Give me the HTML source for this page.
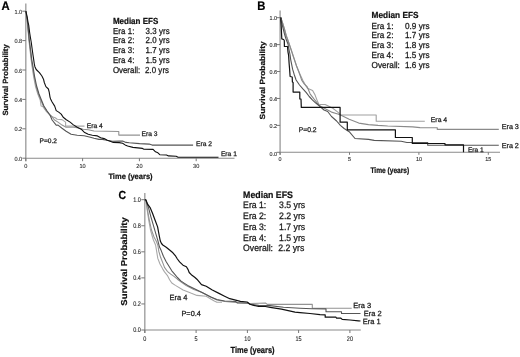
<!DOCTYPE html>
<html><head><meta charset="utf-8"><style>
html,body{margin:0;padding:0;background:#fff;width:520px;height:357px;overflow:hidden}
svg{display:block;filter:blur(0.45px)}
text{font-family:"Liberation Sans", sans-serif;text-rendering:geometricPrecision}
</style></head><body>
<svg width="520" height="357" viewBox="0 0 520 357">
<rect width="520" height="357" fill="#fff"/>
<line x1="25.8" y1="3.5" x2="25.8" y2="161.2" stroke="#a0a0a0" stroke-width="1.4"/>
<line x1="25.3" y1="158.2" x2="234.5" y2="158.2" stroke="#8a8a8a" stroke-width="1.1"/>
<line x1="22.3" y1="11.2" x2="25.8" y2="11.2" stroke="#777" stroke-width="1"/>
<text x="22.2" y="0" font-size="5.6" transform="translate(0,13.7168) scale(1,1.05)" text-anchor="end" fill="#2a2a2a" stroke="#2a2a2a" stroke-width="0.1">1.0</text>
<line x1="22.3" y1="40.599999999999994" x2="25.8" y2="40.599999999999994" stroke="#777" stroke-width="1"/>
<text x="22.2" y="0" font-size="5.6" transform="translate(0,43.11679999999999) scale(1,1.05)" text-anchor="end" fill="#2a2a2a" stroke="#2a2a2a" stroke-width="0.1">0.8</text>
<line x1="22.3" y1="70.0" x2="25.8" y2="70.0" stroke="#777" stroke-width="1"/>
<text x="22.2" y="0" font-size="5.6" transform="translate(0,72.5168) scale(1,1.05)" text-anchor="end" fill="#2a2a2a" stroke="#2a2a2a" stroke-width="0.1">0.6</text>
<line x1="22.3" y1="99.39999999999999" x2="25.8" y2="99.39999999999999" stroke="#777" stroke-width="1"/>
<text x="22.2" y="0" font-size="5.6" transform="translate(0,101.9168) scale(1,1.05)" text-anchor="end" fill="#2a2a2a" stroke="#2a2a2a" stroke-width="0.1">0.4</text>
<line x1="22.3" y1="128.79999999999998" x2="25.8" y2="128.79999999999998" stroke="#777" stroke-width="1"/>
<text x="22.2" y="0" font-size="5.6" transform="translate(0,131.3168) scale(1,1.05)" text-anchor="end" fill="#2a2a2a" stroke="#2a2a2a" stroke-width="0.1">0.2</text>
<line x1="22.3" y1="158.2" x2="25.8" y2="158.2" stroke="#777" stroke-width="1"/>
<text x="22.2" y="0" font-size="5.6" transform="translate(0,160.7168) scale(1,1.05)" text-anchor="end" fill="#2a2a2a" stroke="#2a2a2a" stroke-width="0.1">0.0</text>
<line x1="25.8" y1="158.2" x2="25.8" y2="161.2" stroke="#777" stroke-width="1"/>
<text x="25.8" y="0" font-size="5.6" transform="translate(0,168.0) scale(1,1.05)" text-anchor="middle" fill="#2a2a2a" stroke="#2a2a2a" stroke-width="0.1">0</text>
<line x1="82.6" y1="158.2" x2="82.6" y2="161.2" stroke="#777" stroke-width="1"/>
<text x="82.6" y="0" font-size="5.6" transform="translate(0,168.0) scale(1,1.05)" text-anchor="middle" fill="#2a2a2a" stroke="#2a2a2a" stroke-width="0.1">10</text>
<line x1="139.4" y1="158.2" x2="139.4" y2="161.2" stroke="#777" stroke-width="1"/>
<text x="139.4" y="0" font-size="5.6" transform="translate(0,168.0) scale(1,1.05)" text-anchor="middle" fill="#2a2a2a" stroke="#2a2a2a" stroke-width="0.1">20</text>
<line x1="196.2" y1="158.2" x2="196.2" y2="161.2" stroke="#777" stroke-width="1"/>
<text x="196.2" y="0" font-size="5.6" transform="translate(0,168.0) scale(1,1.05)" text-anchor="middle" fill="#2a2a2a" stroke="#2a2a2a" stroke-width="0.1">30</text>
<text x="1.4" y="0" font-size="11.3" transform="translate(0,9.9) scale(1,1.1)" font-weight="bold" fill="#000" stroke="#000" stroke-width="0.2">A</text>
<text x="0" y="0" font-size="7.6" textLength="71.2" lengthAdjust="spacingAndGlyphs" font-weight="bold" text-anchor="middle" fill="#111" stroke="#111" stroke-width="0.2" transform="translate(7.9,79.95) rotate(-90)">Survival Probability</text>
<text x="130.5" y="0" font-size="7.6" textLength="44.2" lengthAdjust="spacingAndGlyphs" transform="translate(0,178.5) scale(1,1.05)" font-weight="bold" text-anchor="middle" fill="#111" stroke="#111" stroke-width="0.2">Time (years)</text>
<text x="112.9" y="0" font-size="8.0" transform="translate(0,23.8) scale(1,1.1)" font-weight="bold" fill="#111" stroke="#111" stroke-width="0.2">Median EFS</text>
<text x="112.9" y="0" font-size="7.9" letter-spacing="0.08" transform="translate(0,33.6) scale(1,1.1)" fill="#1a1a1a" stroke="#1a1a1a" stroke-width="0.25">Era 1:</text>
<text x="145.6" y="0" font-size="7.9" letter-spacing="0.08" transform="translate(0,33.6) scale(1,1.1)" fill="#1a1a1a" stroke="#1a1a1a" stroke-width="0.25">3.3 yrs</text>
<text x="112.9" y="0" font-size="7.9" letter-spacing="0.08" transform="translate(0,43.34) scale(1,1.1)" fill="#1a1a1a" stroke="#1a1a1a" stroke-width="0.25">Era 2:</text>
<text x="145.6" y="0" font-size="7.9" letter-spacing="0.08" transform="translate(0,43.34) scale(1,1.1)" fill="#1a1a1a" stroke="#1a1a1a" stroke-width="0.25">2.0 yrs</text>
<text x="112.9" y="0" font-size="7.9" letter-spacing="0.08" transform="translate(0,53.08) scale(1,1.1)" fill="#1a1a1a" stroke="#1a1a1a" stroke-width="0.25">Era 3:</text>
<text x="145.6" y="0" font-size="7.9" letter-spacing="0.08" transform="translate(0,53.08) scale(1,1.1)" fill="#1a1a1a" stroke="#1a1a1a" stroke-width="0.25">1.7 yrs</text>
<text x="112.9" y="0" font-size="7.9" letter-spacing="0.08" transform="translate(0,62.82) scale(1,1.1)" fill="#1a1a1a" stroke="#1a1a1a" stroke-width="0.25">Era 4:</text>
<text x="145.6" y="0" font-size="7.9" letter-spacing="0.08" transform="translate(0,62.82) scale(1,1.1)" fill="#1a1a1a" stroke="#1a1a1a" stroke-width="0.25">1.5 yrs</text>
<text x="112.9" y="0" font-size="7.9" transform="translate(0,72.5) scale(1,1.1)" fill="#1a1a1a" stroke="#1a1a1a" stroke-width="0.25">Overall:</text>
<text x="144.9" y="0" font-size="7.9" letter-spacing="0.08" transform="translate(0,72.5) scale(1,1.1)" fill="#1a1a1a" stroke="#1a1a1a" stroke-width="0.25">2.0 yrs</text>
<text x="39.6" y="142.8" font-size="6.6" fill="#1a1a1a" stroke="#1a1a1a" stroke-width="0.25">P=0.2</text>
<text x="86.8" y="127.8" font-size="6.7" fill="#1a1a1a" stroke="#1a1a1a" stroke-width="0.25">Era 4</text>
<text x="141.6" y="136.2" font-size="6.7" fill="#1a1a1a" stroke="#1a1a1a" stroke-width="0.25">Era 3</text>
<text x="196" y="145.8" font-size="6.7" fill="#1a1a1a" stroke="#1a1a1a" stroke-width="0.25">Era 2</text>
<text x="220.9" y="156.3" font-size="6.7" fill="#1a1a1a" stroke="#1a1a1a" stroke-width="0.25">Era 1</text>
<line x1="280.1" y1="10.5" x2="280.1" y2="154.8" stroke="#a0a0a0" stroke-width="1.4"/>
<line x1="279.6" y1="152.3" x2="500" y2="152.3" stroke="#8a8a8a" stroke-width="1.1"/>
<line x1="276.6" y1="17.7" x2="280.1" y2="17.7" stroke="#777" stroke-width="1"/>
<text x="276.9" y="0" font-size="5.4" transform="translate(0,19.8412) scale(1,1.05)" text-anchor="end" fill="#2a2a2a" stroke="#2a2a2a" stroke-width="0.1">1.0</text>
<line x1="276.6" y1="44.620000000000005" x2="280.1" y2="44.620000000000005" stroke="#777" stroke-width="1"/>
<text x="276.9" y="0" font-size="5.4" transform="translate(0,46.98120000000001) scale(1,1.05)" text-anchor="end" fill="#2a2a2a" stroke="#2a2a2a" stroke-width="0.1">0.8</text>
<line x1="276.6" y1="71.54" x2="280.1" y2="71.54" stroke="#777" stroke-width="1"/>
<text x="276.9" y="0" font-size="5.4" transform="translate(0,74.1212) scale(1,1.05)" text-anchor="end" fill="#2a2a2a" stroke="#2a2a2a" stroke-width="0.1">0.6</text>
<line x1="276.6" y1="98.46000000000001" x2="280.1" y2="98.46000000000001" stroke="#777" stroke-width="1"/>
<text x="276.9" y="0" font-size="5.4" transform="translate(0,101.2612) scale(1,1.05)" text-anchor="end" fill="#2a2a2a" stroke="#2a2a2a" stroke-width="0.1">0.4</text>
<line x1="276.6" y1="125.38000000000001" x2="280.1" y2="125.38000000000001" stroke="#777" stroke-width="1"/>
<text x="276.9" y="0" font-size="5.4" transform="translate(0,128.40120000000002) scale(1,1.05)" text-anchor="end" fill="#2a2a2a" stroke="#2a2a2a" stroke-width="0.1">0.2</text>
<line x1="276.6" y1="152.3" x2="280.1" y2="152.3" stroke="#777" stroke-width="1"/>
<text x="276.9" y="0" font-size="5.4" transform="translate(0,155.5412) scale(1,1.05)" text-anchor="end" fill="#2a2a2a" stroke="#2a2a2a" stroke-width="0.1">0.0</text>
<line x1="280.1" y1="152.3" x2="280.1" y2="154.8" stroke="#777" stroke-width="1"/>
<text x="280.1" y="0" font-size="5.4" transform="translate(0,160.9) scale(1,1.05)" text-anchor="middle" fill="#2a2a2a" stroke="#2a2a2a" stroke-width="0.1">0</text>
<line x1="349.5" y1="152.3" x2="349.5" y2="154.8" stroke="#777" stroke-width="1"/>
<text x="349.5" y="0" font-size="5.4" transform="translate(0,160.9) scale(1,1.05)" text-anchor="middle" fill="#2a2a2a" stroke="#2a2a2a" stroke-width="0.1">5</text>
<line x1="418.9" y1="152.3" x2="418.9" y2="154.8" stroke="#777" stroke-width="1"/>
<text x="418.9" y="0" font-size="5.4" transform="translate(0,160.9) scale(1,1.05)" text-anchor="middle" fill="#2a2a2a" stroke="#2a2a2a" stroke-width="0.1">10</text>
<line x1="488.3" y1="152.3" x2="488.3" y2="154.8" stroke="#777" stroke-width="1"/>
<text x="488.3" y="0" font-size="5.4" transform="translate(0,160.9) scale(1,1.05)" text-anchor="middle" fill="#2a2a2a" stroke="#2a2a2a" stroke-width="0.1">15</text>
<text x="257.3" y="0" font-size="11.3" transform="translate(0,9.9) scale(1,1.1)" font-weight="bold" fill="#000" stroke="#000" stroke-width="0.2">B</text>
<text x="0" y="0" font-size="7.5" textLength="78" lengthAdjust="spacingAndGlyphs" font-weight="bold" text-anchor="middle" fill="#111" stroke="#111" stroke-width="0.2" transform="translate(264.6,80.4) rotate(-90)">Survival Probability</text>
<text x="389.8" y="0" font-size="7.1" textLength="38.8" lengthAdjust="spacingAndGlyphs" transform="translate(0,172.8) scale(1,1.14)" font-weight="bold" text-anchor="middle" fill="#111" stroke="#111" stroke-width="0.2">Time (years)</text>
<text x="371.6" y="0" font-size="8.3" transform="translate(0,18.4) scale(1,1.07)" font-weight="bold" fill="#111" stroke="#111" stroke-width="0.2">Median EFS</text>
<text x="371.6" y="0" font-size="8.2" transform="translate(0,28.5) scale(1,1.07)" fill="#1a1a1a" stroke="#1a1a1a" stroke-width="0.25">Era 1:</text>
<text x="405" y="0" font-size="8.2" transform="translate(0,28.5) scale(1,1.07)" fill="#1a1a1a" stroke="#1a1a1a" stroke-width="0.25">0.9 yrs</text>
<text x="371.6" y="0" font-size="8.2" transform="translate(0,38.36) scale(1,1.07)" fill="#1a1a1a" stroke="#1a1a1a" stroke-width="0.25">Era 2:</text>
<text x="405" y="0" font-size="8.2" transform="translate(0,38.36) scale(1,1.07)" fill="#1a1a1a" stroke="#1a1a1a" stroke-width="0.25">1.7 yrs</text>
<text x="371.6" y="0" font-size="8.2" transform="translate(0,48.22) scale(1,1.07)" fill="#1a1a1a" stroke="#1a1a1a" stroke-width="0.25">Era 3:</text>
<text x="405" y="0" font-size="8.2" transform="translate(0,48.22) scale(1,1.07)" fill="#1a1a1a" stroke="#1a1a1a" stroke-width="0.25">1.8 yrs</text>
<text x="371.6" y="0" font-size="8.2" transform="translate(0,58.08) scale(1,1.07)" fill="#1a1a1a" stroke="#1a1a1a" stroke-width="0.25">Era 4:</text>
<text x="405" y="0" font-size="8.2" transform="translate(0,58.08) scale(1,1.07)" fill="#1a1a1a" stroke="#1a1a1a" stroke-width="0.25">1.5 yrs</text>
<text x="371.6" y="0" font-size="8.2" transform="translate(0,67.94) scale(1,1.07)" fill="#1a1a1a" stroke="#1a1a1a" stroke-width="0.25">Overall:</text>
<text x="405" y="0" font-size="8.2" transform="translate(0,67.94) scale(1,1.07)" fill="#1a1a1a" stroke="#1a1a1a" stroke-width="0.25">1.6 yrs</text>
<text x="298.7" y="132.4" font-size="6.8" fill="#1a1a1a" stroke="#1a1a1a" stroke-width="0.25">P=0.2</text>
<text x="430.8" y="122.4" font-size="6.85" fill="#1a1a1a" stroke="#1a1a1a" stroke-width="0.25">Era 4</text>
<text x="501.7" y="129.2" font-size="7.2" fill="#1a1a1a" stroke="#1a1a1a" stroke-width="0.25">Era 3</text>
<text x="501.7" y="147.5" font-size="7.2" fill="#1a1a1a" stroke="#1a1a1a" stroke-width="0.25">Era 2</text>
<text x="467.9" y="151.6" font-size="6.6" fill="#1a1a1a" stroke="#1a1a1a" stroke-width="0.25">Era 1</text>
<line x1="144.8" y1="193" x2="144.8" y2="333" stroke="#a0a0a0" stroke-width="1.4"/>
<line x1="144.3" y1="330" x2="360.8" y2="330" stroke="#8a8a8a" stroke-width="1.1"/>
<line x1="141.3" y1="199.7" x2="144.8" y2="199.7" stroke="#777" stroke-width="1"/>
<text x="140.9" y="0" font-size="5.5" transform="translate(0,202.1156) scale(1,1.22)" text-anchor="end" fill="#2a2a2a" stroke="#2a2a2a" stroke-width="0.1">1.0</text>
<line x1="141.3" y1="225.76" x2="144.8" y2="225.76" stroke="#777" stroke-width="1"/>
<text x="140.9" y="0" font-size="5.5" transform="translate(0,228.1756) scale(1,1.22)" text-anchor="end" fill="#2a2a2a" stroke="#2a2a2a" stroke-width="0.1">0.8</text>
<line x1="141.3" y1="251.82" x2="144.8" y2="251.82" stroke="#777" stroke-width="1"/>
<text x="140.9" y="0" font-size="5.5" transform="translate(0,254.2356) scale(1,1.22)" text-anchor="end" fill="#2a2a2a" stroke="#2a2a2a" stroke-width="0.1">0.6</text>
<line x1="141.3" y1="277.88" x2="144.8" y2="277.88" stroke="#777" stroke-width="1"/>
<text x="140.9" y="0" font-size="5.5" transform="translate(0,280.2956) scale(1,1.22)" text-anchor="end" fill="#2a2a2a" stroke="#2a2a2a" stroke-width="0.1">0.4</text>
<line x1="141.3" y1="303.94" x2="144.8" y2="303.94" stroke="#777" stroke-width="1"/>
<text x="140.9" y="0" font-size="5.5" transform="translate(0,306.3556) scale(1,1.22)" text-anchor="end" fill="#2a2a2a" stroke="#2a2a2a" stroke-width="0.1">0.2</text>
<line x1="141.3" y1="330.0" x2="144.8" y2="330.0" stroke="#777" stroke-width="1"/>
<text x="140.9" y="0" font-size="5.5" transform="translate(0,332.4156) scale(1,1.22)" text-anchor="end" fill="#2a2a2a" stroke="#2a2a2a" stroke-width="0.1">0.0</text>
<line x1="144.8" y1="330" x2="144.8" y2="333" stroke="#777" stroke-width="1"/>
<text x="144.8" y="0" font-size="5.5" transform="translate(0,340.9) scale(1,1.22)" text-anchor="middle" fill="#2a2a2a" stroke="#2a2a2a" stroke-width="0.1">0</text>
<line x1="196.1" y1="330" x2="196.1" y2="333" stroke="#777" stroke-width="1"/>
<text x="196.1" y="0" font-size="5.5" transform="translate(0,340.9) scale(1,1.22)" text-anchor="middle" fill="#2a2a2a" stroke="#2a2a2a" stroke-width="0.1">5</text>
<line x1="247.4" y1="330" x2="247.4" y2="333" stroke="#777" stroke-width="1"/>
<text x="247.4" y="0" font-size="5.5" transform="translate(0,340.9) scale(1,1.22)" text-anchor="middle" fill="#2a2a2a" stroke="#2a2a2a" stroke-width="0.1">10</text>
<line x1="298.6" y1="330" x2="298.6" y2="333" stroke="#777" stroke-width="1"/>
<text x="298.6" y="0" font-size="5.5" transform="translate(0,340.9) scale(1,1.22)" text-anchor="middle" fill="#2a2a2a" stroke="#2a2a2a" stroke-width="0.1">15</text>
<line x1="349.9" y1="330" x2="349.9" y2="333" stroke="#777" stroke-width="1"/>
<text x="349.9" y="0" font-size="5.5" transform="translate(0,340.9) scale(1,1.22)" text-anchor="middle" fill="#2a2a2a" stroke="#2a2a2a" stroke-width="0.1">20</text>
<text x="118.6" y="0" font-size="10.5" transform="translate(0,198.6) scale(1,1.12)" font-weight="bold" fill="#000" stroke="#000" stroke-width="0.2">C</text>
<text x="0" y="0" font-size="8.6" textLength="88.4" lengthAdjust="spacingAndGlyphs" font-weight="bold" text-anchor="middle" fill="#111" stroke="#111" stroke-width="0.2" transform="translate(127.2,261.5) rotate(-90)">Survival Probability</text>
<text x="252.6" y="0" font-size="7.6" textLength="44" lengthAdjust="spacingAndGlyphs" transform="translate(0,353.0) scale(1,1.17)" font-weight="bold" text-anchor="middle" fill="#111" stroke="#111" stroke-width="0.2">Time (years)</text>
<text x="243.1" y="0" font-size="8.8" transform="translate(0,197.5) scale(1,1.07)" font-weight="bold" fill="#111" stroke="#111" stroke-width="0.2">Median EFS</text>
<text x="243.1" y="0" font-size="8.7" transform="translate(0,208.0) scale(1,1.07)" fill="#1a1a1a" stroke="#1a1a1a" stroke-width="0.25">Era 1:</text>
<text x="279.1" y="0" font-size="8.7" transform="translate(0,208.0) scale(1,1.07)" fill="#1a1a1a" stroke="#1a1a1a" stroke-width="0.25">3.5 yrs</text>
<text x="243.1" y="0" font-size="8.7" transform="translate(0,218.85) scale(1,1.07)" fill="#1a1a1a" stroke="#1a1a1a" stroke-width="0.25">Era 2:</text>
<text x="279.1" y="0" font-size="8.7" transform="translate(0,218.85) scale(1,1.07)" fill="#1a1a1a" stroke="#1a1a1a" stroke-width="0.25">2.2 yrs</text>
<text x="243.1" y="0" font-size="8.7" transform="translate(0,229.7) scale(1,1.07)" fill="#1a1a1a" stroke="#1a1a1a" stroke-width="0.25">Era 3:</text>
<text x="279.1" y="0" font-size="8.7" transform="translate(0,229.7) scale(1,1.07)" fill="#1a1a1a" stroke="#1a1a1a" stroke-width="0.25">1.7 yrs</text>
<text x="243.1" y="0" font-size="8.7" transform="translate(0,240.55) scale(1,1.07)" fill="#1a1a1a" stroke="#1a1a1a" stroke-width="0.25">Era 4:</text>
<text x="279.1" y="0" font-size="8.7" transform="translate(0,240.55) scale(1,1.07)" fill="#1a1a1a" stroke="#1a1a1a" stroke-width="0.25">1.5 yrs</text>
<text x="243.1" y="0" font-size="8.7" transform="translate(0,251.4) scale(1,1.07)" fill="#1a1a1a" stroke="#1a1a1a" stroke-width="0.25">Overall:</text>
<text x="278.20000000000005" y="0" font-size="8.7" transform="translate(0,251.4) scale(1,1.07)" fill="#1a1a1a" stroke="#1a1a1a" stroke-width="0.25">2.2 yrs</text>
<text x="181.5" y="315.5" font-size="7.3" fill="#1a1a1a" stroke="#1a1a1a" stroke-width="0.25">P=0.4</text>
<text x="353.3" y="307.9" font-size="7.5" fill="#1a1a1a" stroke="#1a1a1a" stroke-width="0.25">Era 3</text>
<text x="363.7" y="315.6" font-size="7.5" fill="#1a1a1a" stroke="#1a1a1a" stroke-width="0.25">Era 2</text>
<text x="362.8" y="324.4" font-size="7.5" fill="#1a1a1a" stroke="#1a1a1a" stroke-width="0.25">Era 1</text>
<text x="169.4" y="300" font-size="7.5" fill="#1a1a1a" stroke="#1a1a1a" stroke-width="0.25">Era 4</text>
<path d="M25.8,11.2 L26.2,14.0 L27.0,20.0 L28.0,30.0 L28.9,40.0 L30.0,50.0 L31.2,60.0 L32.0,66.0 L33.5,76.0 L35.4,86.0 L37.8,94.0 L40.2,100.0 L41.1,106.0 L42.7,106.5 L46.0,111.0 L50.1,115.2 L52.1,116.7 L55.2,117.7 L57.2,119.2 L62.0,119.6 L65.6,122.1 L65.6,126.1 L84.5,126.1" fill="none" stroke="#a8a8a8" stroke-width="1.1" stroke-linejoin="round" opacity="1"/>
<path d="M25.8,11.2 L26.3,14.0 L27.2,20.0 L28.2,30.0 L29.1,40.0 L30.3,50.0 L31.5,60.0 L32.4,66.0 L34.0,76.0 L36.0,86.0 L38.4,94.0 L40.8,100.0 L43.3,106.0 L46.5,111.0 L50.0,115.0 L52.1,116.7 L54.2,119.7 L58.0,122.1 L62.0,125.1 L66.1,127.2 L73.1,127.2 L77.2,127.7 L83.2,129.2 L88.2,129.7 L94.0,131.0 L118.8,131.5 L118.8,135.1 L140.0,135.1" fill="none" stroke="#939393" stroke-width="1.1" stroke-linejoin="round" opacity="1"/>
<path d="M25.8,11.2 L26.3,14.0 L27.3,20.0 L28.3,30.0 L29.3,40.0 L30.6,50.0 L31.8,60.0 L32.9,66.0 L34.5,76.0 L36.6,86.0 L39.0,94.0 L41.4,100.0 L43.9,106.0 L47.1,111.0 L50.1,115.2 L52.1,120.0 L56.2,125.2 L58.0,125.1 L62.0,128.2 L66.1,131.2 L71.1,134.2 L77.2,135.2 L84.2,135.7 L90.3,137.2 L94.0,138.2 L99.0,139.4 L102.4,139.4 L106.6,140.3 L112.5,141.3 L119.2,141.0 L122.6,141.1 L126.0,142.4 L129.3,142.8 L139.6,143.6 L149.2,144.1 L152.1,145.1 L193.1,145.1" fill="none" stroke="#555" stroke-width="1.1" stroke-linejoin="round" opacity="1"/>
<path d="M25.8,11.2 L26.3,13.0 L27.2,17.0 L28.0,22.0 L28.7,25.0 L29.7,33.0 L30.5,38.0 L31.2,42.0 L32.3,50.0 L33.0,55.0 L33.7,59.7 L34.3,64.0 L34.9,66.7 L36.2,69.5 L39.4,72.7 L41.9,76.0 L43.5,79.2 L44.3,82.5 L45.9,86.6 L48.4,89.0 L49.2,92.2 L50.0,97.1 L50.6,99.0 L52.1,102.0 L54.7,106.1 L56.2,110.6 L58.7,112.1 L61.2,114.1 L63.2,117.2 L66.3,119.7 L70.1,122.1 L73.1,124.6 L77.2,127.2 L81.2,129.2 L84.2,132.2 L88.2,134.2 L92.3,135.2 L97.4,135.9 L100.7,137.8 L104.1,138.6 L107.4,140.3 L110.8,141.5 L113.3,142.4 L119.2,142.6 L122.6,143.2 L125.1,144.9 L127.6,146.0 L132.9,147.4 L142.5,148.4 L143.9,149.2 L153.1,149.4 L155.5,151.8 L157.9,152.8 L159.8,154.7 L166.5,155.0 L168.5,155.9 L176.2,156.3 L178.1,157.2 L218.5,157.2" fill="none" stroke="#111" stroke-width="1.1" stroke-linejoin="round" opacity="1"/>
<path d="M280.4,17.7 L280.9,17.9 L282.5,22.5 L284.6,29.5 L286.4,36.0 L288.2,41.0 L291.0,49.0 L293.8,57.5 L296.6,66.0 L299.4,73.0 L302.9,80.5 L305.3,84.8 L307.4,88.3 L312.6,90.5 L315.1,95.1 L317.0,100.1 L319.5,105.8 L320.2,104.5 L325.2,104.5 L332.8,108.3 L337.8,112.1 L340.4,114.6 L340.6,115.0 L376.2,115.0 L376.2,121.2 L424.8,121.2" fill="none" stroke="#a0a0a0" stroke-width="1.1" stroke-linejoin="round" opacity="1"/>
<path d="M280.4,17.7 L280.9,17.9 L282.3,22.1 L284.4,28.8 L286.1,35.5 L287.8,40.0 L290.6,48.4 L293.4,56.8 L296.2,65.2 L299.0,72.2 L301.7,80.1 L304.2,83.9 L307.3,87.0 L310.1,93.8 L313.9,98.9 L319.5,105.8 L331.5,112.1 L337.8,114.0 L341.6,115.5 L349.2,119.2 L358.8,123.1 L368.5,124.6 L378.0,125.4 L387.7,126.0 L412.7,126.9 L420.0,127.6 L437.3,127.7 L437.3,129.4 L498.8,129.4" fill="none" stroke="#8a8a8a" stroke-width="1.1" stroke-linejoin="round" opacity="1"/>
<path d="M280.4,17.7 L280.9,17.9 L281.5,22.0 L283.0,28.0 L284.5,34.0 L286.0,39.0 L287.2,42.0 L288.0,44.0 L289.1,50.0 L290.1,55.1 L290.6,59.1 L291.6,64.2 L292.6,69.2 L294.1,74.2 L296.1,80.0 L299.5,85.0 L302.9,88.9 L306.3,92.6 L309.2,96.5 L312.6,100.1 L315.5,102.8 L319.5,106.0 L324.0,110.0 L327.7,111.5 L331.5,116.5 L336.6,121.0 L340.4,125.4 L344.1,128.5 L349.2,131.7 L355.0,138.5 L368.5,139.4 L374.2,140.4 L401.2,141.3 L406.9,142.5 L427.7,142.5 L427.7,145.2 L498.8,145.2" fill="none" stroke="#555" stroke-width="1.1" stroke-linejoin="round" opacity="1"/>
<path d="M280.4,17.7 L280.9,17.9 L280.8,20.0 L281.3,28.0 L281.6,35.0 L281.8,38.9 L283.6,39.5 L284.3,40.5 L284.4,46.5 L287.5,46.5 L288.0,52.1 L288.6,55.1 L289.1,63.2 L289.6,69.2 L290.1,76.5 L292.2,77.0 L292.4,82.0 L293.1,82.5 L293.1,92.1 L299.8,92.1 L299.8,99.0 L301.0,99.0 L301.3,107.4 L340.1,107.4 L340.1,122.2 L347.3,122.2 L347.3,129.8 L395.4,129.8 L395.4,137.5 L412.3,137.5 L412.3,143.5 L445.0,143.5 L445.0,144.8 L463.5,144.8 L463.5,152.3" fill="none" stroke="#111" stroke-width="1.2" stroke-linejoin="round" opacity="1"/>
<path d="M144.8,199.7 L145.9,200.0 L147.2,210.0 L148.7,220.0 L150.5,230.0 L152.5,237.0 L153.4,240.0 L155.6,245.0 L156.7,251.7 L157.8,258.4 L160.0,264.0 L162.8,269.1 L164.5,271.9 L167.3,275.3 L169.6,279.7 L171.8,283.0 L175.4,285.4 L183.1,290.0 L190.8,293.1 L196.9,295.4 L206.2,296.2 L213.8,300.8 L216.9,302.3 L222.0,302.3" fill="none" stroke="#a8a8a8" stroke-width="1.1" stroke-linejoin="round" opacity="1"/>
<path d="M144.8,199.7 L145.9,200.0 L147.5,210.0 L149.3,220.0 L151.5,230.0 L154.0,237.0 L155.9,240.4 L157.8,245.0 L158.9,251.7 L160.6,257.3 L162.8,262.9 L164.5,267.4 L167.3,271.3 L170.7,274.1 L174.0,276.4 L177.4,279.2 L181.9,282.5 L186.2,285.5 L193.8,289.5 L201.5,292.3 L209.2,296.2 L216.9,300.0 L225.0,301.5 L235.6,302.5 L250.0,303.5 L265.4,303.0 L267.3,304.4 L312.3,304.4 L312.3,308.3 L351.7,308.3" fill="none" stroke="#939393" stroke-width="1.1" stroke-linejoin="round" opacity="1"/>
<path d="M144.8,199.7 L145.9,200.0 L148.7,208.4 L150.9,216.8 L153.4,225.3 L155.8,233.7 L157.8,240.4 L159.5,247.1 L161.2,250.6 L163.4,256.2 L166.2,261.8 L169.0,266.3 L171.8,270.8 L174.6,274.1 L177.4,277.5 L180.8,280.9 L184.1,283.1 L187.7,285.4 L195.4,289.2 L203.1,293.1 L210.8,296.9 L216.9,299.5 L224.6,301.0 L235.6,301.5 L237.5,303.0 L248.1,303.0 L250.0,304.2 L258.7,305.4 L270.0,305.6 L283.5,307.3 L300.0,308.3 L312.0,308.8 L326.0,308.9 L326.0,311.8 L341.5,311.8 L341.5,313.5 L360.5,313.5" fill="none" stroke="#555" stroke-width="1.1" stroke-linejoin="round" opacity="1"/>
<path d="M144.8,199.7 L145.9,200.0 L147.6,204.2 L150.1,207.6 L152.6,213.5 L155.1,220.2 L157.6,226.9 L159.3,236.0 L160.3,241.0 L161.5,243.5 L162.8,245.0 L166.2,247.2 L169.6,250.0 L172.9,252.8 L175.7,256.2 L177.4,259.0 L179.6,261.8 L183.0,265.2 L186.4,266.8 L188.1,269.6 L189.2,272.5 L192.0,275.3 L195.0,277.5 L196.9,279.2 L201.5,284.6 L206.2,286.2 L212.3,290.0 L218.5,293.1 L224.6,296.2 L229.8,298.7 L235.6,300.1 L240.4,301.3 L247.1,302.0 L250.0,304.2 L252.9,305.2 L258.7,306.5 L265.4,306.5 L270.2,307.3 L281.5,309.2 L295.0,312.1 L300.0,312.6 L310.0,313.5 L320.0,314.6 L325.2,314.8 L325.2,317.2 L336.0,317.2 L336.6,318.2 L340.9,318.2 L342.2,319.4 L350.0,320.0 L358.5,320.8 L360.5,321.0" fill="none" stroke="#111" stroke-width="1.2" stroke-linejoin="round" opacity="1"/>
</svg></body></html>
